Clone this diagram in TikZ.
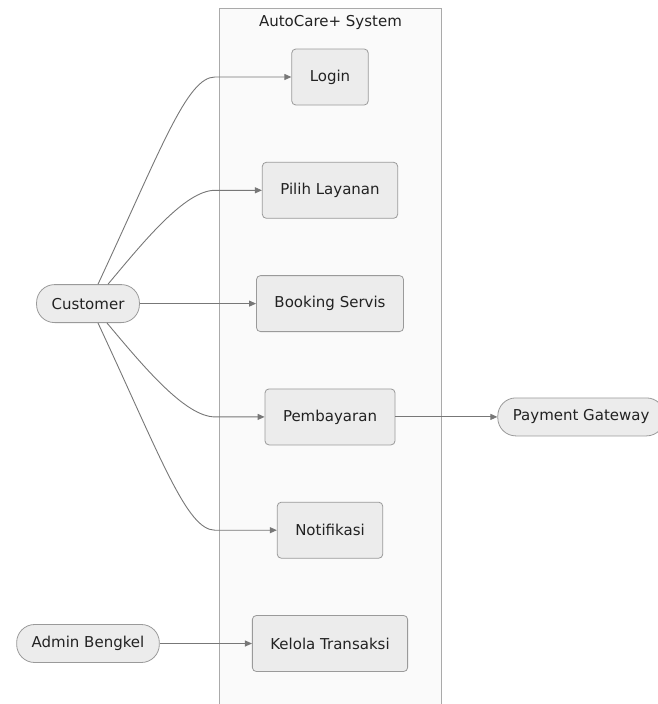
\documentclass[tikz,border=0pt]{standalone}
\usepackage{fontspec}
\setmainfont{DejaVu Sans}
\usetikzlibrary{positioning, arrows.meta, calc}
\definecolor{boxfill}{HTML}{ECECEC}
\definecolor{boxline}{HTML}{9A9A9A}
\definecolor{sysfill}{HTML}{FAFAFA}
\definecolor{sysline}{HTML}{AAAAAA}
\definecolor{edgeline}{HTML}{777777}
\definecolor{txt}{HTML}{222222}

\begin{document}
\begin{tikzpicture}[
        x=1pt, y=-1pt,
        node distance=56.5pt and 102pt,
        every node/.style={font=\fontsize{15}{18}\selectfont, text=txt},
        system/.style={draw=sysline, fill=sysfill, line width=1pt, minimum width=222pt, minimum height=720pt, inner sep=0pt},
        usecase/.style={draw=boxline, fill=boxfill, rounded corners=4pt, minimum height=56pt, inner xsep=18pt, line width=0.8pt},
        actor/.style={draw=boxline, fill=boxfill, rounded corners=18pt, minimum height=38pt, inner xsep=15pt, line width=0.8pt},
        arrow/.style={-{Triangle[length=7pt, width=6pt]}, draw=edgeline, line width=0.9pt}
    ]
    \useasboundingbox (0,0) rectangle (657,704);

    \node[system, anchor=north west] (System) at (219,8) {};
    \node (SysTitle) at ([yshift=-14pt]System.north) {AutoCare+ System};

    \node[usecase] (Login) at (330,77) {Login};
    \node[usecase, below=of Login] (Pilih) {Pilih Layanan};
    \node[usecase, below=of Pilih] (Booking) {Booking Servis};
    \node[usecase, below=of Booking] (Bayar) {Pembayaran};
    \node[usecase, below=of Bayar] (Notif) {Notifikasi};
    \node[usecase, below=of Notif] (Kelola) {Kelola Transaksi};

    \coordinate (leftcol) at (88,0);
    \node[actor] (Customer) at (leftcol |- Booking) {Customer};
    \node[actor] (Admin) at (leftcol |- Kelola) {Admin Bengkel};
    \node[actor, right=of Bayar, anchor=west] (Gateway) {Payment Gateway};

    \coordinate (bendx) at (215,0);

    \draw[arrow] ([xshift=10pt]Customer.north) to[out=65, in=180, out distance=150pt, in distance=28pt] (Login.west -| bendx) -- (Login.west);
    \draw[arrow] ([xshift=20pt]Customer.north) to[out=50, in=180, out distance=55pt, in distance=30pt] (Pilih.west -| bendx) -- (Pilih.west);
    \draw[arrow] (Customer.east) -- (Booking.west);
    \draw[arrow] ([xshift=19pt]Customer.south) to[out=-50, in=180, out distance=55pt, in distance=30pt] (Bayar.west -| bendx) -- (Bayar.west);
    \draw[arrow] ([xshift=10pt]Customer.south) to[out=-65, in=180, out distance=150pt, in distance=28pt] (Notif.west -| bendx) -- (Notif.west);
    \draw[arrow] (Bayar.east) -- (Gateway.west);
    \draw[arrow] (Admin.east) -- (Kelola.west);

\end{tikzpicture}
\end{document}
